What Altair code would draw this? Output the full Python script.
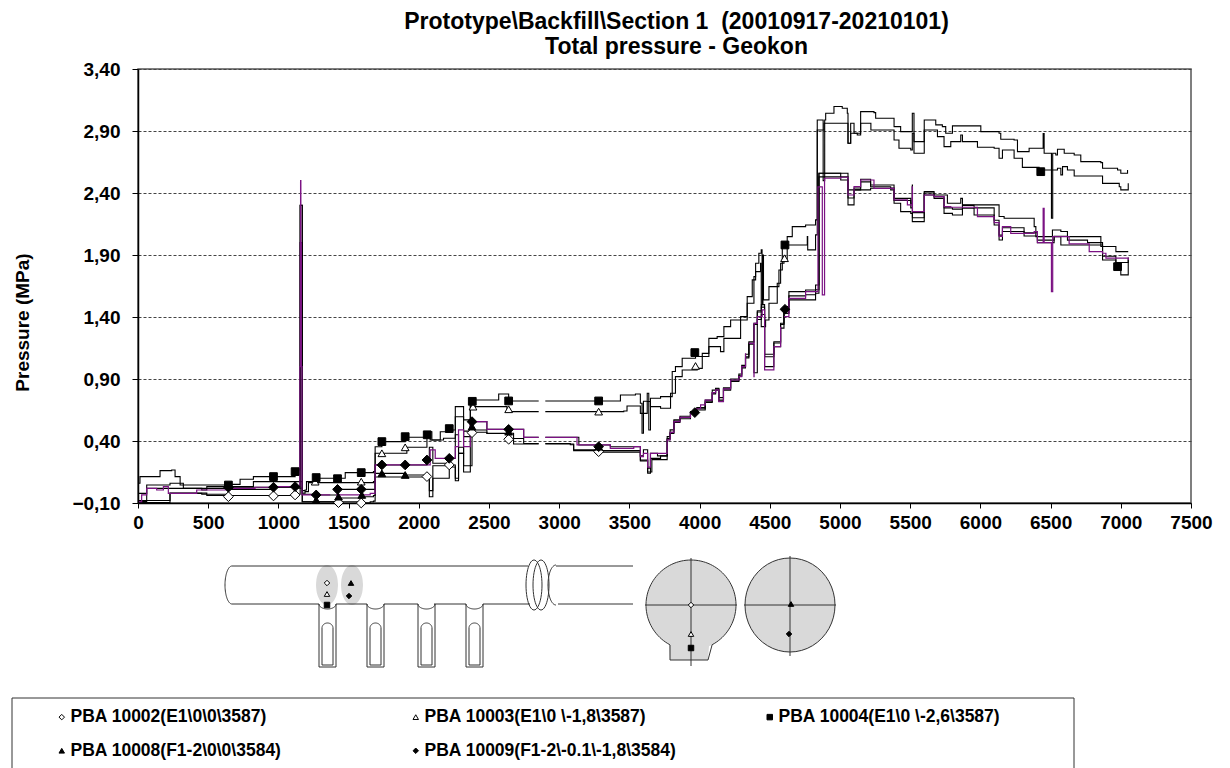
import altair as alt
import numpy as np
import pandas as pd

NAMES = ["PBA 10002(E1\\0\\0\\3587)", "PBA 10008(F1-2\\0\\0\\3584)", "PBA 10003(E1\\0 \\-1,8\\3587)",
         "PBA 10009(F1-2\\-0.1\\-1,8\\3584)", "PBA 10004(E1\\0 \\-2,6\\3587)"]
SHAPES = ["diamond", "triangle-up", "triangle-up", "diamond", "square"]
FILLS = ["white", "black", "white", "black", "black"]

x_ticks = list(range(0, 7501, 500))
y_ticks = [-0.1, 0.4, 0.9, 1.4, 1.9, 2.4, 2.9, 3.4]

s10004_x = [7,14,157,240,264,300,454,490,644,727,822,965,1119,1131,1150,1155,1170,1190,1200,1262,1416,1476,1594,1677,1689,1737,1903,2034,2058,2093,2153,2236,2260,2319,2367,2557,2569,2628,2640,2854,2855,2901,3281,3436,3543,3578,3590,3600,3627,3638,3650,3722,3805,3828,3876,3971,4066,4125,4173,4221,4292,4339,4375,4399,4422,4439,4445,4451,4455,4470,4494,4565,4589,4624,4660,4755,4826,4838,4850,4880,4891,4898,4957,5016,5052,5057,5076,5100,5147,5242,5254,5361,5385,5432,5504,5515,5527,5599,5600,5670,5682,5729,5753,5801,5955,6003,6133,6145,6240,6264,6347,6406,6447,6454,6490,6506,6515,6537,6549,6597,6668,6715,6858,6870,6977,7000,7048]
s10004_y = [.059,.113,.161,.166,.113,.045,.045,.045,.05,.091,.113,.113,.125,.166,.166,2.3,0.0,.005,.072,.099,.099,.145,.145,.153,.354,.395,.43,.43,.475,.408,.475,.489,.677,.57,.731,.731,.779,.779,.723,.723,None,.723,.723,.771,.779,.704,.462,.72,.785,.489,.745,.758,.96,1.0,1.067,1.081,1.228,1.242,1.322,1.376,1.403,1.564,1.699,1.833,1.914,1.941,1.5,1.9,1.538,1.538,1.645,1.779,1.968,2.048,2.129,2.142,2.183,2.989,2.989,2.5,2.989,3.043,3.097,3.083,3.043,2.801,2.962,2.882,3.056,3.048,3.003,3.003,2.935,2.895,2.895,3.043,2.814,2.814,2.989,2.989,2.949,2.935,2.882,2.941,2.941,2.895,2.882,2.833,2.828,2.734,2.761,2.761,2.88,2.72,2.72,2.196,2.72,2.707,2.753,2.72,2.707,2.653,2.645,2.599,2.586,2.559,2.586]

s10003_x = [7,62,228,323,454,490,644,822,1119,1150,1170,1190,1214,1416,1559,1677,1689,1844,1915,2034,2058,2081,2176,2260,2319,2367,2628,2652,2854,2855,2901,3460,3483,3555,3578,3627,3650,3722,3793,3828,3876,3983,4019,4066,4149,4173,4292,4339,4387,4399,4434,4439,4470,4494,4553,4577,4601,4624,4767,4770,4826,4838,4886,5052,5057,5076,5123,5147,5218,5220,5361,5385,5420,5504,5515,5527,5599,5600,5670,5694,5741,5789,5860,5872,5979,6098,6133,6157,6240,6299,6406,6418,6549,6573,6585,6620,6668,6834,6870,6989,7000,7053]
s10003_y = [-.022,.045,.059,.018,.005,.032,.032,.072,.072,.072,-.02,-.008,.064,.064,.064,.072,.301,.301,.349,.349,.462,.408,.422,.596,.435,.677,.656,.637,.637,None,.637,.642,.682,.682,.623,.718,.677,.664,.785,.919,.973,.986,1.107,1.161,1.121,1.228,1.376,1.511,1.726,1.766,1.833,1.322,1.376,1.511,1.672,1.833,1.86,1.981,2.048,1.941,2.062,2.908,2.962,2.962,2.801,2.882,2.868,2.962,2.962,2.908,2.908,2.828,2.761,2.747,2.882,2.72,2.72,2.908,2.908,2.855,2.774,2.814,2.868,2.814,2.769,2.761,2.68,2.747,2.68,2.607,2.607,2.586,2.599,2.546,2.613,2.586,2.537,2.537,2.478,2.451,2.425,2.478]

s10009_x = [7,62,644,965,1119,1150,1155,1170,1269,1421,1590,1654,1689,1903,2058,2075,2100,2217,2260,2283,2319,2367,2438,2485,2675,2747,2854,2855,2901,3127,3140,3364,3531,3578,3600,3630,3650,3700,3769,3790,3817,3860,3935,3980,4040,4090,4114,4137,4170,4221,4280,4300,4327,4351,4387,4411,4440,4463,4529,4577,4601,4636,4755,4826,4850,5005,5057,5147,5218,5361,5385,5504,5515,5516,5599,5600,5670,5765,5860,5872,6014,6133,6169,6383,6395,6490,6513,6573,6620,6786,6858,6965,7053]
s10009_y = [-.089,.018,.027,.027,.032,.04,2.3,-.03,-.035,.01,.01,.01,.207,.207,.247,.35,.22,.26,.45,.3,.48,.556,.556,.494,.494,.43,.43,None,.43,.43,.368,.354,.354,.28,.33,.18,.3,.28,.435,.49,.57,.60,.637,.67,.73,.81,.825,.75,.83,.9,.94,1.01,1.1,1.2,1.35,1.45,1.5,1.1,1.2,1.35,1.484,1.605,1.618,1.658,2.559,2.559,2.425,2.511,2.465,2.465,2.357,2.317,2.465,2.242,2.242,2.411,2.384,2.317,2.357,2.304,2.304,2.21,2.196,2.129,2.048,2.048,2.102,2.089,2.048,2.048,1.968,1.927,1.927]

s10008_x = [7,228,454,644,965,1119,1150,1170,1269,1428,1594,1677,1689,1903,2058,2075,2100,2217,2260,2283,2319,2379,2485,2675,2854,2855,2901,3079,3103,3555,3578,3630,3660,3769,3790,3817,3860,3935,3980,4040,4090,4114,4137,4170,4221,4280,4300,4327,4351,4387,4411,4440,4463,4529,4577,4601,4636,4755,4826,4850,5005,5057,5100,5218,5361,5385,5432,5504,5515,5599,5600,5670,5741,5801,5872,5955,6098,6133,6157,6311,6406,6490,6525,6573,6763,6870,6965,7000,7053]
s10008_y = [-.097,-.022,-.03,.01,.027,.02,.02,-.09,-.09,-.06,-.05,-.04,.139,.126,.126,-.05,.2,.207,.1,.35,.2,.489,.462,.376,.376,None,.376,.376,.322,.322,.247,.15,.25,.42,.47,.56,.59,.63,.66,.72,.79,.82,.73,.82,.89,.93,1.0,1.08,1.19,1.34,1.44,1.48,1.08,1.19,1.34,1.43,1.538,1.538,1.591,2.559,2.505,2.304,2.425,2.438,2.425,2.317,2.25,2.236,2.169,2.169,2.384,2.357,2.236,2.223,2.277,2.223,2.142,2.021,2.089,2.053,2.0,2.0,2.048,1.981,1.981,1.86,1.806,1.74,1.86]

s10002_x = [7,228,454,490,644,965,1119,1150,1155,1170,1428,1590,1654,1677,1689,1903,2058,2075,2100,2217,2260,2283,2319,2367,2485,2640,2747,2854,2855,2901,3079,3103,3281,3555,3578,3630,3650,3722,3769,3790,3817,3860,3935,3980,4040,4090,4114,4137,4170,4221,4280,4300,4327,4351,4387,4411,4440,4463,4529,4577,4601,4636,4755,4826,4850,5005,5057,5100,5147,5218,5361,5385,5504,5515,5516,5599,5600,5670,5741,5801,5872,5955,6098,6133,6157,6311,6406,6490,6525,6620,6763,6870,6965,7053]
s10002_y = [-.08,-.02,-.02,-.04,-.04,-.04,-.035,-.03,2.0,-.09,-.09,-.1,-.09,-.085,.11,.11,.113,.0,.1,.19,.08,.3,.15,.47,.46,.42,.38,.38,None,.38,.37,.33,.31,.31,.24,.14,.26,.28,.41,.46,.55,.58,.62,.65,.71,.78,.81,.72,.81,.88,.92,.99,1.07,1.18,.95,1.38,1.42,1.0,1.16,1.31,1.43,1.57,1.58,1.62,2.53,2.53,2.36,2.44,2.49,2.45,2.44,2.34,2.28,2.45,2.2,2.2,2.4,2.37,2.28,2.27,2.3,2.28,2.18,2.06,2.12,2.08,2.02,2.02,2.05,2.02,2.0,1.89,1.84,1.88]

purple_x = [7,26,62,133,181,216,418,501,656,834,965,1131,1150,1153,1156,1158,1160,1163,1168,1190,1369,1393,1410,1654,1689,2058,2081,2117,2224,2260,2283,2319,2367,2438,2485,2675,2747,2854,2855,2901,3127,3364,3531,3578,3600,3630,3650,3769,3790,3817,3860,3935,3980,4007,4040,4090,4114,4137,4170,4221,4280,4300,4327,4328,4351,4387,4388,4411,4446,4463,4529,4577,4578,4601,4636,4755,4843,4874,4890,5005,5057,5100,5147,5242,5361,5385,5480,5515,5516,5599,5600,5670,5741,5789,5860,5979,6098,6133,6157,6216,6383,6406,6447,6454,6490,6506,6515,6525,6620,6632,6763,6775,6870,6894,7053]
purple_y = [-.089,-.035,.018,.005,.032,-.022,.005,.005,.018,.027,.032,.037,.037,1.0,2.0,2.5,2.0,1.0,-.035,-.035,-.035,None,-.035,-.022,.207,.207,.328,.26,.26,.354,.489,.354,.556,.556,.494,.494,.43,.43,None,.43,.368,.341,.354,.274,.301,.19,.3,.409,.47,.556,.59,.624,.66,.691,.73,.79,.812,.718,.82,.892,.919,1.0,1.107,None,1.188,.919,1.349,1.403,1.457,.973,1.161,1.322,None,1.403,1.551,1.605,2.45,1.578,2.519,2.527,2.384,2.451,2.505,2.438,2.438,2.344,2.304,2.45,2.25,2.25,2.384,2.371,2.29,2.285,2.285,2.21,2.161,2.05,2.129,2.075,2.089,2.0,2.277,2.0,2.0,1.605,2.048,2.048,2.048,1.989,1.989,1.927,1.914,1.874,1.86]

m_x = {"PBA 10002(E1\\0\\0\\3587)": [644,965,1119,1428,1590,2058,2217,2379,2640,3281],
       "PBA 10003(E1\\0 \\-1,8\\3587)": [1262,1590,1737,1903,2386,2640,3281,3971,4605],
       "PBA 10004(E1\\0 \\-2,6\\3587)": [644,965,1119,1269,1421,1590,1737,1903,2060,2217,2381,2640,3281,3966,4608,6430,6977],
       "PBA 10008(F1-2\\0\\0\\3584)": [1269,1428,1594,1737,1903,2379,2640,3281],
       "PBA 10009(F1-2\\-0.1\\-1,8\\3584)": [644,965,1119,1269,1421,1590,1737,1903,2058,2217,2379,2640,3281,3966,4608]}
m_y = {"PBA 10002(E1\\0\\0\\3587)": [-.049,-.043,-.035,-.097,-.1,.113,.207,.467,.414,.314],
       "PBA 10003(E1\\0 \\-1,8\\3587)": [.072,.072,.301,.349,.677,.656,.637,1.005,1.874],
       "PBA 10004(E1\\0 \\-2,6\\3587)": [.045,.113,.153,.105,.096,.145,.395,.435,.45,.5,.72,.723,.723,1.113,1.981,2.572,1.806],
       "PBA 10008(F1-2\\0\\0\\3584)": [-.076,-.049,-.035,.139,.126,.516,.475,.354],
       "PBA 10009(F1-2\\-0.1\\-1,8\\3584)": [.027,.027,.032,-.035,.01,.01,.207,.207,.247,.26,.556,.494,.354,.629,1.462]}

PX0, PX1, PY0, PY1 = 138, 1191, 503, 69
def dx(p): return (p - PX0) * 7500 / (PX1 - PX0)
def dy(p): return (PY0 - p) * 3.5 / (PY0 - PY1) - 0.1

rows = []
for name, xs, ys in [("10004", s10004_x, s10004_y), ("10003", s10003_x, s10003_y), ("10009", s10009_x, s10009_y),
                     ("10008", s10008_x, s10008_y), ("10002", s10002_x, s10002_y)]:
    rows += [{"s": name, "i": i, "x": a, "y": b} for i, (a, b) in enumerate(zip(xs, ys))]
black = pd.DataFrame(rows)
purple = pd.DataFrame({"i": range(len(purple_x)), "x": purple_x, "y": purple_y})

outlines = []
def poly(pts):
    g = len(outlines)
    outlines.extend({"g": g, "i": i, "x": dx(a), "y": dy(b)} for i, (a, b) in enumerate(pts))
def ell(cx, cy, rx, ry, a0=0, a1=360):
    t = np.radians(np.linspace(a0, a1, 49))
    return list(zip(cx + rx * np.cos(t), cy + ry * np.sin(t)))

poly(ell(232, 585, 7, 19, 90, 270))
poly([(232, 566), (528, 566)])
poly([(556, 566), (633, 566)])
poly([(232, 604), (319, 604)])
for a, b in [(336, 367), (384, 418), (434, 466), (483, 530)]:
    poly([(a, 604), (b, 604)])
poly([(558, 604), (633, 604)])
for a in (319, 367, 418, 466):
    poly([(a, 604), (a, 667), (a + 17, 667), (a + 17, 604)])
    poly(ell(a + 8.5, 604, 8.5, 5, 0, 180))
    poly([(a + 3, 628), (a + 3, 665), (a + 14, 665), (a + 14, 628)])
    poly(ell(a + 8.5, 628, 5.5, 5, 180, 360))
poly(ell(534, 585, 8, 25))
poly(ell(541, 585, 8, 25))
poly(ell(556, 585, 8, 20, 90, 270))

t = np.radians(np.linspace(118, 422, 97))
poly(list(zip(691 + 45 * np.cos(t), 605 + 45 * np.sin(t))) + [(708, 660), (670, 660), (670, 645)])
poly(ell(790, 605, 45, 47))
poly([(645, 605), (737, 605)])
poly([(691, 558), (691, 666)])
poly([(744, 605), (836, 605)])
poly([(790, 556), (790, 656)])
poly([(12, 768), (12, 698), (1074, 698), (1074, 768)])
line_df = pd.DataFrame(outlines)

fills = []
def fill_ellipse(k, cx, cy, rx, ry):
    for px in np.linspace(cx - rx, cx + rx, 61):
        h = ry * np.sqrt(max(0, 1 - ((px - cx) / rx) ** 2))
        fills.append({"g": k, "x": dx(px), "y": dy(cy - h), "y2": dy(cy + h)})
fill_ellipse(0, 327, 585, 11, 20)
fill_ellipse(1, 352, 585, 11, 20)
fill_ellipse(2, 790, 605, 45, 47)
for px in np.linspace(646, 736, 91):
    h = 45 * np.sqrt(max(0, 1 - ((px - 691) / 45) ** 2))
    low = 660 if 670 <= px <= 708 else 605 + h
    fills.append({"g": 3, "x": dx(px), "y": dy(605 - h), "y2": dy(low)})
fill_df = pd.DataFrame(fills)

mrows = []
for n, sh in zip(NAMES, SHAPES):
    sz = 95 if sh == "diamond" else 60
    mrows += [{"name": n, "x": a, "y": b, "sz": sz} for a, b in zip(m_x[n], m_y[n])]
D, H, Q, T, E = NAMES[0], NAMES[1], NAMES[2], NAMES[3], NAMES[4]
for n, a, b in [(D, 327, 583), (Q, 327, 594), (E, 327, 605), (H, 351, 583), (T, 349, 596),
                (D, 691, 605), (Q, 691, 634), (E, 691, 648), (H, 791, 604), (T, 789, 634)]:
    mrows.append({"name": n, "x": dx(a), "y": dy(b), "sz": 30})
mark_df = pd.DataFrame(mrows)

FONT = "Liberation Sans"
xs = alt.Scale(domain=[0, 7500], nice=False, zero=False)
ys = alt.Scale(domain=[-0.1, 3.4], nice=False, zero=False)
X = alt.X("x:Q", scale=xs, axis=alt.Axis(values=x_ticks, format="d", title=None, grid=False, domainColor="black",
                                         domainWidth=1.5, tickColor="black", tickSize=5, labelFont=FONT,
                                         labelFontWeight="bold", labelFontSize=19, labelColor="black", labelPadding=5,
                                         labelFlush=False, labelOverlap=False))
Y = alt.Y("y:Q", scale=ys, axis=alt.Axis(values=y_ticks, title="Pressure (MPa)", titleFont=FONT, titleFontSize=19,
                                         titleFontWeight="bold", titleColor="black", titleX=-116, titleY=253,
                                         titleAngle=270, titleAlign="center", titleBaseline="middle",
                                         labelExpr="replace(format(datum.value,'.2f'),'.',',')",
                                         grid=True, gridColor="#444444", gridDash=[3, 2], gridWidth=1,
                                         domainColor="black", domainWidth=1.5, tickColor="black", tickSize=6,
                                         labelFont=FONT, labelFontWeight="bold", labelFontSize=19, labelColor="black",
                                         labelPadding=12, labelOverlap=False))

areas = alt.Chart(fill_df).mark_area(color="#d9d9d9", interpolate="linear").encode(
    x=X, y=Y, y2="y2:Q", detail="g:N")
schem = alt.Chart(line_df).mark_line(color="#333333", strokeWidth=1).encode(
    x=X, y=Y, detail="g:N", order="i:Q")
blk = alt.Chart(black).mark_line(color="black", strokeWidth=1.1, interpolate="step-after").encode(
    x=X, y=Y, detail="s:N", order="i:Q")
pur = alt.Chart(purple).mark_line(color="#7b1283", strokeWidth=1.2, interpolate="step-after").encode(
    x=X, y=Y, order="i:Q")
leg = alt.Legend(orient="none", legendX=-85, legendY=639, columns=3, title=None, labelFont=FONT, labelFontSize=17.5,
                 labelFontWeight="bold", labelColor="black", symbolSize=30, symbolStrokeWidth=1, columnPadding=84,
                 rowPadding=15, labelLimit=300, gridAlign="all", labelOffset=0)
pts = alt.Chart(mark_df).mark_point(filled=True, strokeWidth=1, opacity=1).encode(
    x=X, y=Y,
    size=alt.Size("sz:Q", scale=None, legend=None),
    shape=alt.Shape("name:N", sort=None, scale=alt.Scale(domain=NAMES, range=SHAPES), legend=leg),
    fill=alt.Fill("name:N", sort=None, scale=alt.Scale(domain=NAMES, range=FILLS), legend=leg),
    stroke=alt.Stroke("name:N", sort=None, scale=alt.Scale(domain=NAMES, range=["black"] * 5), legend=leg),
)

chart = alt.layer(areas, schem, blk, pur, pts).properties(
    width=PX1 - PX0, height=PY0 - PY1,
    padding={"left": PX0 - 8, "top": PY1 - 8, "right": 23, "bottom": 760 - (PY0 - 8)},
    autosize=alt.AutoSizeParams(type="none"),
    background="white",
    title=alt.TitleParams(text=["Prototype\\Backfill\\Section 1 \u00a0(20010917-20210101)", "Total pressure - Geokon"],
                          font=FONT, fontSize=23, fontWeight="bold", color="black", anchor="middle", dx=12,
                          offset=1, lineHeight=25),
).configure_view(stroke="#555555", strokeWidth=1.5)

chart.save("out.html", embed_options={"renderer": "svg", "actions": False})
